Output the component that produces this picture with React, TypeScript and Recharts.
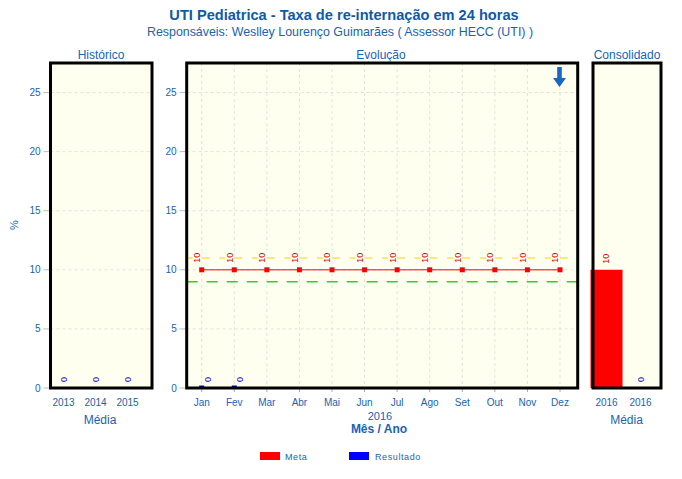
import React from 'react';
import {
  LineChart,
  Line,
  ComposedChart,
  Bar,
  XAxis,
  YAxis,
  CartesianGrid,
  ReferenceLine,
  LabelList,
  Cell,
} from 'recharts';

// ---------- data ----------
const historicoAnos = ['2013', '2014', '2015'];
const historicoResultado = [0, 0, 0];

const meses = ['Jan', 'Fev', 'Mar', 'Abr', 'Mai', 'Jun', 'Jul', 'Ago', 'Set', 'Out', 'Nov', 'Dez'];
const metaMensal = [10, 10, 10, 10, 10, 10, 10, 10, 10, 10, 10, 10];
const resultadoMensal: (number | null)[] = [0, 0, null, null, null, null, null, null, null, null, null, null];
const limiteSuperior = 11;
const limiteInferior = 9;

const consolidadoAnos = ['2016', '2016'];
const consolidadoValores = [10, 0];
const consolidadoSeries = ['Meta', 'Resultado'];

const yTicks = [0, 5, 10, 15, 20, 25];
const yMax = 27.5;

// ---------- layout / style ----------
const W = 682;
const H = 479;
const PLOT_TOP = 63;
const PLOT_BOTTOM = 388;
const XAXIS_H = 30;
const FONT = '"Liberation Sans", Arial, sans-serif';
const BLUE = '#1763b5';
const TITLE_BLUE = '#0e5aa8';
const BG = '#FFFFF0';
const GRID = '#e2e2d8';
const RED = '#FF0000';
const RES_BLUE = '#0000FF';
const LABEL_RED = '#cc0000';
const LABEL_BLUE = '#0000cc';

const panelL = { left: 50.5, right: 152 };
const panelM = { left: 186.7, right: 577.7 };
const panelR = { left: 593, right: 661 };

const marginFor = (p: { left: number; right: number }) => ({
  top: PLOT_TOP,
  bottom: H - PLOT_BOTTOM - XAXIS_H,
  left: 0,
  right: W - p.right,
});

const historicoData = historicoAnos.map((a, i) => ({ ano: a, resultado: historicoResultado[i] }));
const evolucaoData = meses.map((m, i) => ({ mes: m, meta: metaMensal[i], resultado: resultadoMensal[i] }));
const consolidadoData = consolidadoAnos.map((a, i) => ({ ano: a, valor: consolidadoValores[i], serie: consolidadoSeries[i] }));

const tickStyle = { fill: BLUE, fontSize: 10, fontFamily: FONT };

const rotLabel = (color: string, dx: number, dy: number, bg?: boolean) => (props: any) => {
  const { x, y, value } = props;
  if (value === null || value === undefined) return null;
  const cx = Number(x) + dx;
  const cy = Number(y) + dy;
  return (
    <g>
      {bg ? <rect x={cx - 4.5} y={cy - 12} width={9} height={13} fill={BG} /> : null}
      <text
        x={cx}
        y={cy}
        transform={`rotate(-90 ${cx} ${cy})`}
        textAnchor="start"
        dominantBaseline="central"
        fill={color}
        fontSize={9}
        fontFamily={FONT}
      >
        {value}
      </text>
    </g>
  );
};

const squareDot = (color: string) => (props: any) => {
  const { cx, cy, index, value } = props;
  if (value === null || value === undefined || cx == null || cy == null) return <g key={`d${index}`} />;
  return <rect key={`d${index}`} x={cx - 2.5} y={cy - 2.5} width={5} height={5} fill={color} />;
};

const consolidadoLabel = (props: any) => {
  const { index } = props;
  const color = consolidadoSeries[index] === 'Meta' ? LABEL_RED : LABEL_BLUE;
  return rotLabel(color, 0, -6)(props);
};

export default function App() {
  const posStyle: React.CSSProperties = { position: 'absolute', left: 0, top: 0 };
  return (
    <div style={{ position: 'absolute', left: 0, top: 0, width: W, height: H, background: '#fff' }}>
      {/* Histórico */}
      <div style={posStyle}>
        <LineChart width={W} height={H} data={historicoData} margin={marginFor(panelL)}>
          <CartesianGrid fill={BG} stroke={GRID} strokeDasharray="3 3" vertical={false} />
          <XAxis
            dataKey="ano"
            height={XAXIS_H}
            padding={{ left: 13, right: 24.5 }}
            axisLine={false}
            tickLine={{ stroke: 'transparent' }}
            tickSize={4}
            tickMargin={7}
            tick={tickStyle}
            interval={0}
          />
          <YAxis
            width={panelL.left}
            domain={[0, yMax]}
            ticks={yTicks}
            allowDataOverflow
            axisLine={false}
            tickLine={{ stroke: '#bbbbbb' }}
            tickSize={7}
            tickMargin={3}
            tick={tickStyle}
          />
          <Line dataKey="resultado" stroke="none" dot={false} isAnimationActive={false}>
            <LabelList dataKey="resultado" content={rotLabel(LABEL_BLUE, 0, -6)} />
          </Line>
        </LineChart>
      </div>

      {/* Evolução */}
      <div style={posStyle}>
        <LineChart width={W} height={H} data={evolucaoData} margin={marginFor(panelM)}>
          <CartesianGrid fill={BG} stroke={GRID} strokeDasharray="3 3" />
          <XAxis
            dataKey="mes"
            height={XAXIS_H}
            padding={{ left: 15, right: 17.7 }}
            axisLine={false}
            tickLine={{ stroke: '#aaaaaa' }}
            tickSize={4}
            tickMargin={7}
            tick={tickStyle}
            interval={0}
          />
          <YAxis
            width={panelM.left}
            domain={[0, yMax]}
            ticks={yTicks}
            allowDataOverflow
            axisLine={false}
            tickLine={{ stroke: '#bbbbbb' }}
            tickSize={7}
            tickMargin={3}
            tick={tickStyle}
          />
          <ReferenceLine y={limiteSuperior} stroke="#F2E64A" strokeWidth={1.5} strokeDasharray="23 9.55" />
          <ReferenceLine y={limiteInferior} stroke="#33CC33" strokeWidth={1.5} strokeDasharray="11 9" />
          <Line
            dataKey="meta"
            stroke={RED}
            strokeWidth={1}
            dot={squareDot(RED)}
            isAnimationActive={false}
          >
            <LabelList dataKey="meta" content={rotLabel(LABEL_RED, -4.5, -7, true)} />
          </Line>
          <Line
            dataKey="resultado"
            stroke={RES_BLUE}
            strokeWidth={1}
            dot={squareDot('#0000cc')}
            isAnimationActive={false}
          >
            <LabelList dataKey="resultado" content={rotLabel(LABEL_BLUE, 6, -6)} />
          </Line>
        </LineChart>
      </div>

      {/* Consolidado */}
      <div style={posStyle}>
        <ComposedChart width={W} height={H} data={consolidadoData} margin={marginFor(panelR)}>
          <CartesianGrid fill={BG} stroke={GRID} strokeDasharray="3 3" vertical={false} />
          <XAxis
            dataKey="ano"
            height={XAXIS_H}
            padding={{ left: -3.5, right: 3.5 }}
            axisLine={false}
            tickLine={{ stroke: 'transparent' }}
            tickSize={4}
            tickMargin={7}
            tick={tickStyle}
            interval={0}
          />
          <YAxis
            width={panelR.left}
            domain={[0, yMax]}
            ticks={yTicks}
            allowDataOverflow
            axisLine={false}
            tickLine={{ stroke: '#bbbbbb' }}
            tickSize={7}
            tick={false}
          />
          <Bar dataKey="valor" barSize={32} isAnimationActive={false}>
            {consolidadoData.map((d, i) => (
              <Cell key={i} fill={d.serie === 'Meta' ? RED : RES_BLUE} />
            ))}
          </Bar>
          <Line dataKey="valor" stroke="none" dot={false} isAnimationActive={false}>
            <LabelList dataKey="valor" content={consolidadoLabel} />
          </Line>
        </ComposedChart>
      </div>

      {/* frames, titles, legend */}
      <svg width={W} height={H} style={{ ...posStyle, pointerEvents: 'none' }}>
        <rect x={panelL.left} y={PLOT_TOP} width={panelL.right - panelL.left} height={PLOT_BOTTOM - PLOT_TOP} fill="none" stroke="#000" strokeWidth={3} />
        <rect x={panelM.left} y={PLOT_TOP} width={panelM.right - panelM.left} height={PLOT_BOTTOM - PLOT_TOP} fill="none" stroke="#000" strokeWidth={3} />
        <rect x={panelR.left} y={PLOT_TOP} width={panelR.right - panelR.left} height={PLOT_BOTTOM - PLOT_TOP} fill="none" stroke="#000" strokeWidth={3} />

        {/* trend arrow */}
        <path d="M557.2,67 L561.8,67 L561.8,78 L566,78 L559.5,87 L553,78 L557.2,78 Z" fill="#1a66c4" />

        <g fontFamily={FONT}>
          <text x={344} y={20} textAnchor="middle" fontSize={14.6} fontWeight="bold" fill={TITLE_BLUE}>
            UTI Pediatrica - Taxa de re-internação em 24 horas
          </text>
          <text x={340} y={36} textAnchor="middle" fontSize={12.4} fill={BLUE}>
            Responsáveis: Weslley Lourenço Guimarães ( Assessor HECC (UTI) )
          </text>
          <text x={101} y={59} textAnchor="middle" fontSize={12} fill={BLUE}>Histórico</text>
          <text x={381} y={59} textAnchor="middle" fontSize={12} fill={BLUE}>Evolução</text>
          <text x={627} y={59} textAnchor="middle" fontSize={12} fill={BLUE}>Consolidado</text>

          <text x={18} y={225} textAnchor="middle" fontSize={11} fill={BLUE} transform="rotate(-90 18 225)">%</text>

          <text x={100} y={423.5} textAnchor="middle" fontSize={12} fill={BLUE}>Média</text>
          <text x={626.5} y={423.5} textAnchor="middle" fontSize={12} fill={BLUE}>Média</text>
          <text x={380} y={420} textAnchor="middle" fontSize={11} fill={BLUE}>2016</text>
          <text x={379} y={432.5} textAnchor="middle" fontSize={12} fontWeight="bold" fill={BLUE}>Mês / Ano</text>

          <rect x={260} y={452} width={20} height={8} fill={RED} />
          <text x={285} y={459.5} fontSize={9} letterSpacing={0.6} fill={BLUE}>Meta</text>
          <rect x={349} y={452} width={20} height={8} fill={RES_BLUE} />
          <text x={375} y={459.5} fontSize={9} letterSpacing={0.6} fill={BLUE}>Resultado</text>
        </g>
      </svg>
    </div>
  );
}
